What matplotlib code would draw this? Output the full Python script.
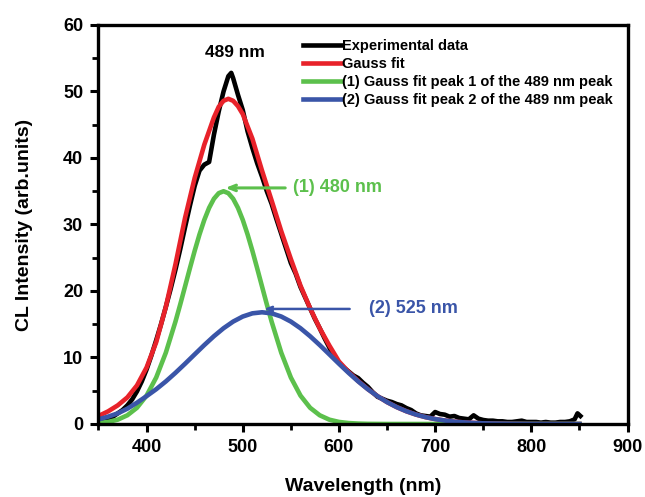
import matplotlib
matplotlib.use("Agg")
import matplotlib.pyplot as plt
import numpy as np

plt.rcParams['font.family'] = ['Liberation Sans', 'DejaVu Sans']
plt.rcParams['font.weight'] = 'bold'
plt.rcParams['axes.labelweight'] = 'bold'

# experimental CL spectrum
exp_wl = [350, 355, 360, 365, 370, 375, 380, 385, 390, 395, 400, 405, 410, 415, 420,
          425, 430, 435, 440, 445, 450, 455, 460, 465, 470, 475, 480, 485, 488, 490,
          495, 500, 505, 510, 515, 520, 525, 530, 535, 540, 545, 550, 555, 560, 565,
          570, 575, 580, 585, 590, 595, 600, 605, 610, 615, 620, 625, 630, 635, 640,
          645, 650, 655, 660, 665, 670, 675, 680, 685, 690, 695, 700, 705, 710, 715,
          720, 725, 730, 735, 740, 745, 750, 755, 760, 765, 770, 775, 780, 785, 790,
          795, 800, 805, 810, 815, 820, 825, 830, 835, 840, 845, 848, 851]
exp_int = [0.3, 0.5, 0.8, 1.1, 1.6, 2.1, 2.8, 3.7, 4.9, 6.4, 8.2, 10.3, 12.6, 15.0, 17.6,
           20.3, 23.2, 26.3, 29.6, 32.8, 35.8, 38.1, 39.0, 39.4, 43.5, 47.0, 50.0, 52.3, 52.8, 52.0,
           49.5, 47.2, 44.0, 41.5, 39.2, 37.2, 35.0, 33.1, 30.8, 28.6, 26.4, 24.2, 22.6, 20.6, 19.0,
           17.4, 15.8, 14.4, 12.9, 11.5, 9.9, 9.2, 8.5, 7.9, 7.3, 6.9, 6.2, 5.6, 4.8, 4.1,
           3.8, 3.5, 3.3, 3.0, 2.8, 2.4, 2.1, 1.6, 1.3, 1.2, 1.1, 1.8, 1.5, 1.4, 1.1,
           1.2, 0.9, 0.8, 0.7, 1.3, 0.8, 0.6, 0.5, 0.5, 0.4, 0.4, 0.3, 0.3, 0.4, 0.5,
           0.3, 0.3, 0.3, 0.2, 0.3, 0.2, 0.2, 0.3, 0.3, 0.4, 0.7, 1.6, 1.2]

# overall Gauss fit
fit_wl = [350, 360, 370, 380, 390, 400, 410, 420, 430, 440, 450, 460, 470, 475, 480,
          485, 490, 495, 500, 510, 520, 530, 540, 550, 560, 570, 580, 590, 600, 610,
          620, 630, 640, 650, 660, 670, 680, 690, 700, 710, 720, 730, 740, 750, 760,
          770, 780, 790, 800, 850]
gauss_fit = [1.2, 1.9, 2.8, 4.0, 5.8, 8.5, 12.3, 17.6, 24.0, 31.0, 37.0, 42.0, 46.1, 47.7, 48.6,
             48.9, 48.6, 47.8, 46.6, 42.9, 38.1, 33.6, 29.0, 24.8, 20.8, 17.4, 14.4, 11.8, 9.4, 7.83,
             6.46, 5.25, 4.2, 3.29, 2.54, 1.92, 1.42, 1.03, 0.74, 0.52, 0.35, 0.24, 0.16, 0.10, 0.06,
             0.04, 0.02, 0.01, 0, 0]

# component (1), peak at 480 nm
peak1_wl = [350, 360, 370, 380, 390, 400, 410, 420, 430, 435, 440, 445, 450, 455, 460,
            465, 470, 475, 480, 485, 490, 495, 500, 505, 510, 515, 520, 525, 530, 540,
            550, 560, 570, 580, 590, 600, 610, 620, 630, 640, 650, 850]
peak1 = [0.14, 0.31, 0.65, 1.31, 2.44, 4.27, 6.99, 10.72, 15.39, 17.99, 20.69, 23.40, 26.04, 28.50, 30.69,
         32.50, 33.87, 34.71, 35.0, 34.71, 33.87, 32.50, 30.69, 28.50, 26.04, 23.40, 20.69, 17.99, 15.39, 10.72,
         6.99, 4.27, 2.44, 1.31, 0.65, 0.31, 0.14, 0.06, 0.02, 0.01, 0, 0]

# component (2), peak at 525 nm, every 10 nm
peak2_wl = list(range(350, 851, 10))
peak2 = [0.7, 1.1, 1.6, 2.3, 3.2, 4.19, 5.23, 6.40, 7.69, 9.06, 10.47, 11.87, 13.20, 14.40, 15.40,
         16.16, 16.64, 16.80, 16.64, 16.16, 15.40, 14.40, 13.20, 11.87, 10.47, 9.06, 7.69, 6.40, 5.23, 4.19,
         3.29, 2.54, 1.92, 1.42, 1.03, 0.74, 0.52, 0.35, 0.24, 0.16, 0.10, 0.06, 0.04, 0.02, 0.01,
         0, 0, 0, 0, 0, 0]

c_red = '#e8222a'
c_green = '#5cc04c'
c_blue = '#3a55a8'

fig = plt.figure(figsize=(6.45, 4.97), dpi=100)
ax = fig.add_axes([0.1527, 0.1469, 0.8202, 0.8028])

ax.plot(exp_wl, exp_int, color='black', lw=3.3, solid_joinstyle='round', label='Experimental data')
ax.plot(fit_wl, gauss_fit, color=c_red, lw=3.3, solid_joinstyle='round', label='Gauss fit')
ax.plot(peak1_wl, peak1, color=c_green, lw=3.3, solid_joinstyle='round',
        label='(1) Gauss fit peak 1 of the 489 nm peak')
ax.plot(peak2_wl, peak2, color=c_blue, lw=3.3, solid_joinstyle='round',
        label='(2) Gauss fit peak 2 of the 489 nm peak')

ax.set_xlim(350, 900)
ax.set_ylim(0, 60)
ax.set_xticks([400, 500, 600, 700, 800, 900])
ax.set_xticks([350, 450, 550, 650, 750, 850], minor=True)
ax.set_yticks(np.arange(0, 61, 10))
ax.set_yticks(np.arange(5, 60, 10), minor=True)
ax.tick_params(which='major', direction='out', length=6, width=2.2, labelsize=13, pad=5)
ax.tick_params(which='minor', direction='out', length=4, width=2)
for s in ax.spines.values():
    s.set_linewidth(2.4)

ax.set_xlabel('Wavelength (nm)', fontsize=14, labelpad=16)
ax.set_ylabel('CL Intensity (arb.units)', fontsize=14, labelpad=22)

ax.text(492, 55.9, '489 nm', fontsize=12.5, ha='center', va='center')

ax.annotate('', xy=(479, 35.5), xytext=(547, 35.5),
            arrowprops=dict(arrowstyle='->,head_length=0.5,head_width=0.2', color=c_green, lw=2.2))
ax.text(552, 35.5, '(1) 480 nm', color=c_green, fontsize=13, va='center')

ax.annotate('', xy=(519, 17.3), xytext=(614, 17.3),
            arrowprops=dict(arrowstyle='->,head_length=0.4,head_width=0.15', color=c_blue, lw=1.8))
ax.text(631, 17.3, '(2) 525 nm', color=c_blue, fontsize=13, va='center')

ax.legend(loc='upper left', bbox_to_anchor=(0.375, 0.98), frameon=False, fontsize=10.5,
          handlelength=2.6, handletextpad=0.1, labelspacing=0.28, borderaxespad=0)

fig.savefig('out.png', dpi=100)
